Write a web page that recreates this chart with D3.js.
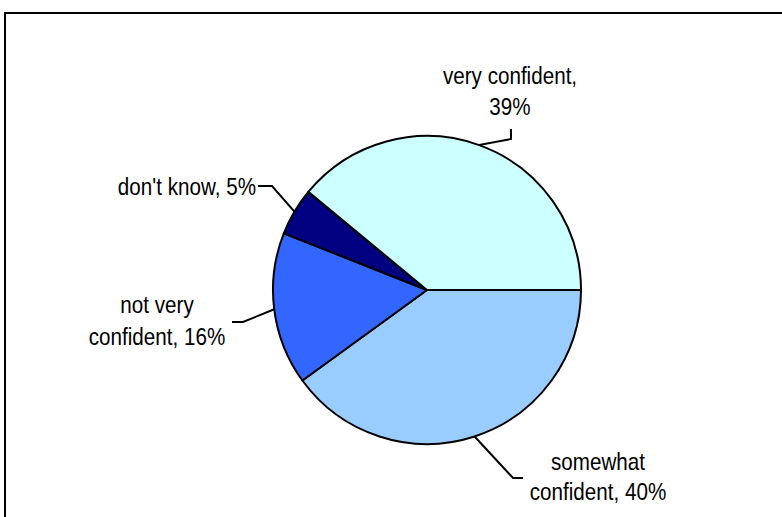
<!DOCTYPE html>
<html>
<head>
<meta charset="utf-8">
<script src="https://cdn.jsdelivr.net/npm/d3@7/dist/d3.min.js"></script>
<style>
  html, body { margin: 0; padding: 0; background: #fff; }
  svg { display: block; }
  text { font-family: "Liberation Sans", Arial, sans-serif; fill: #000; }
</style>
</head>
<body>
<svg id="chart" width="782" height="517"></svg>
<script>
// Survey answers, in drawing order (clockwise from 3 o'clock)
const categories = ["somewhat confident", "not very confident", "don't know", "very confident"];
const values = [40, 16, 5, 39];
const colors = ["#99CCFF", "#3366FF", "#000080", "#CCFFFF"];
// Label lines for each slice
const labelLines = [
  ["somewhat", "confident, 40%"],
  ["not very", "confident, 16%"],
  ["don't know, 5%"],
  ["very confident,", "39%"]
];

const svg = d3.select("#chart");
const W = 782, H = 517;

// outer frame (open on the right and bottom edges)
svg.append("path")
  .attr("d", `M5,${H + 2} L5,13 L${W + 2},13`)
  .attr("fill", "none")
  .attr("stroke", "#000")
  .attr("stroke-width", 2);

const cx = 427, cy = 290, R = 154;
const g = svg.append("g").attr("transform", `translate(${cx},${cy})`);

const pie = d3.pie().sort(null).value(d => d)
  .startAngle(Math.PI / 2).endAngle(Math.PI / 2 + 2 * Math.PI);
const arcs = pie(values);
const arc = d3.arc().innerRadius(0).outerRadius(R);

g.selectAll("path.slice")
  .data(arcs)
  .join("path")
  .attr("class", "slice")
  .attr("d", arc)
  .attr("fill", (d, i) => colors[i])
  .attr("stroke", "#000")
  .attr("stroke-width", 2)
  .attr("stroke-linejoin", "round");

// point on the rim at a slice's middle angle
function rimPoint(d) {
  const a = (d.startAngle + d.endAngle) / 2;
  return [cx + R * Math.sin(a), cy - R * Math.cos(a)];
}

// leader line bends and label placement per slice
const layout = [
  { bend: [[513, 478], [523, 478]], x: 598, y: 470, lh: 30, anchor: "middle" },
  { bend: [[243, 322], [232, 322]], x: 157, y: 313, lh: 32, anchor: "middle" },
  { bend: [[272, 186], [258, 186]], x: 256, y: 195, lh: 0, anchor: "end" },
  { bend: [[511, 139], [511, 129]], x: 510, y: 84, lh: 31, anchor: "middle" }
];

const line = d3.line();
arcs.forEach((d, i) => {
  const pts = [rimPoint(d), ...layout[i].bend];
  svg.append("path")
    .attr("d", line(pts))
    .attr("fill", "none")
    .attr("stroke", "#000")
    .attr("stroke-width", 2);

  // condensed label text
  const t = svg.append("text")
    .attr("text-anchor", layout[i].anchor)
    .attr("font-size", 24)
    .attr("transform", `translate(${layout[i].x},${layout[i].y}) scale(0.86,1)`);
  labelLines[i].forEach((s, j) => {
    t.append("tspan")
      .attr("x", 0)
      .attr("y", j * layout[i].lh)
      .text(s);
  });
});
</script>
</body>
</html>
